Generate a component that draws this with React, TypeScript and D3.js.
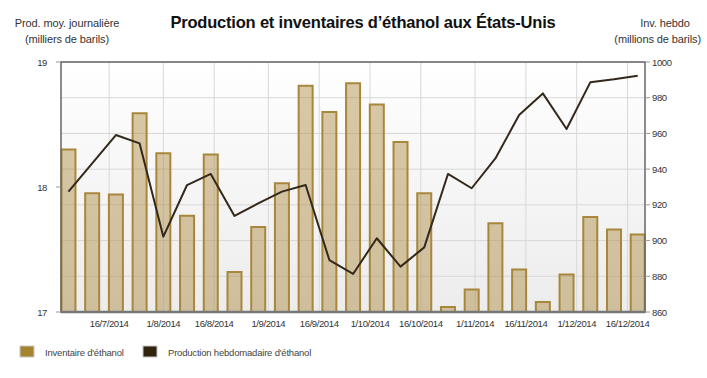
import React from "react";
import * as d3 from "d3";

const dates: string[] = [
  "2014-07-04", "2014-07-11", "2014-07-18", "2014-07-25", "2014-08-01", "2014-08-08",
  "2014-08-15", "2014-08-22", "2014-08-29", "2014-09-05", "2014-09-12", "2014-09-19",
  "2014-09-26", "2014-10-03", "2014-10-10", "2014-10-17", "2014-10-24", "2014-10-31",
  "2014-11-07", "2014-11-14", "2014-11-21", "2014-11-28", "2014-12-05", "2014-12-12",
  "2014-12-19",
];
const inventaire: number[] = [
  18.3, 17.95, 17.94, 18.59, 18.27, 17.77, 18.26, 17.32, 17.68, 18.03, 18.81, 18.6,
  18.83, 18.66, 18.36, 17.95, 17.04, 17.18, 17.71, 17.34, 17.08, 17.3, 17.76, 17.66, 17.62,
];
const production: number[] = [
  927.4, 943.2, 959.1, 954.4, 902.2, 931.1, 937.3, 913.8, 920.8, 927.4, 931.1, 889.1,
  881.3, 901.3, 885.4, 896.2, 937.3, 929.3, 946.0, 970.3, 982.4, 962.5, 988.6, 990.3, 992.3,
];
const leftTicks: number[] = [17, 18, 19];
const rightTicks: number[] = [860, 880, 900, 920, 940, 960, 980, 1000];
const xTickDates: string[] = [
  "2014-07-16", "2014-08-01", "2014-08-16", "2014-09-01", "2014-09-16", "2014-10-01",
  "2014-10-16", "2014-11-01", "2014-11-16", "2014-12-01", "2014-12-16",
];
const title = "Production et inventaires d\u2019éthanol aux États-Unis";
const leftTitle = ["Prod. moy. journalière", "(milliers de barils)"];
const rightTitle = ["Inv. hebdo", "(millions de barils)"];
const legendLabels = ["Inventaire d'éthanol", "Production hebdomadaire d'éthanol"];

const W = 707, H = 378;
const L = 61, R = 645, T = 62, B = 312;
const FONT = "'Liberation Sans', Arial, Helvetica, sans-serif";

export default function App() {
  const parse = d3.utcParse("%Y-%m-%d");
  const ds = dates.map((d) => parse(d)!);
  const DAY = 86400000;
  const x = d3
    .scaleUtc()
    .domain([new Date(ds[0].getTime() - 2.2 * DAY), new Date(ds[ds.length - 1].getTime() + 2.15 * DAY)])
    .range([L, R]);
  const yL = d3.scaleLinear().domain([17, 19]).range([B, T]);
  const yR = d3.scaleLinear().domain([860, 1000]).range([B, T]);
  const bw = 14;
  const fmt = d3.utcFormat("%-d/%-m/%Y");
  const line = d3
    .line<number>()
    .x((_, i) => x(ds[i]))
    .y((v) => yR(v));

  return (
    <svg width={W} height={H} style={{ position: "absolute", left: 0, top: 0, fontFamily: FONT }}>
      <defs>
        <linearGradient id="bg" x1="0" y1="0" x2="0" y2="1">
          <stop offset="0" stopColor="#ffffff" />
          <stop offset="1" stopColor="#ececec" />
        </linearGradient>
      </defs>
      <rect width={W} height={H} fill="#fff" />
      <text x={363} y={28} textAnchor="middle" fontSize={16.5} letterSpacing={-0.2} fontWeight="bold" fill="#111">
        {title}
      </text>
      <text x={67} y={27} textAnchor="middle" fontSize={11} letterSpacing={-0.1} fill="#333">{leftTitle[0]}</text>
      <text x={67} y={43} textAnchor="middle" fontSize={11} letterSpacing={-0.1} fill="#333">{leftTitle[1]}</text>
      <text x={665} y={27} textAnchor="middle" fontSize={11} letterSpacing={-0.1} fill="#333">{rightTitle[0]}</text>
      <text x={701} y={43} textAnchor="end" fontSize={11} letterSpacing={-0.1} fill="#333">{rightTitle[1]}</text>

      <rect x={L} y={T} width={R - L} height={B - T} fill="url(#bg)" />
      {rightTicks.map((t) => (
        <line key={"gh" + t} x1={L} x2={R} y1={yR(t)} y2={yR(t)} stroke="#d8d8d8" strokeWidth={1} />
      ))}
      {xTickDates.map((t) => {
        const xx = x(parse(t)!);
        return <line key={"gv" + t} x1={xx} x2={xx} y1={T} y2={B} stroke="#d8d8d8" strokeWidth={1} />;
      })}

      {inventaire.map((v, i) => (
        <rect
          key={"b" + i}
          x={x(ds[i]) - bw / 2}
          y={yL(v)}
          width={bw}
          height={B - yL(v)}
          fill="rgba(170,135,60,0.45)"
          stroke="#a8873c"
          strokeWidth={2}
        />
      ))}

      <path d={line(production)!} fill="none" stroke="#33281a" strokeWidth={2} strokeLinejoin="round" />

      <rect x={L} y={T} width={R - L} height={B - T} fill="none" stroke="#666" strokeWidth={1.5} />
      <line x1={L} x2={R} y1={B} y2={B} stroke="#777" strokeWidth={2.5} />

      {leftTicks.map((t) => (
        <g key={"lt" + t}>
          <line x1={L - 5} x2={L} y1={yL(t)} y2={yL(t)} stroke="#999" />
          <text x={L - 14} y={yL(t) + 3.5} textAnchor="end" fontSize={9.5} letterSpacing={-0.4} fill="#333">{t}</text>
        </g>
      ))}
      {rightTicks.map((t) => (
        <g key={"rt" + t}>
          <line x1={R} x2={R + 5} y1={yR(t)} y2={yR(t)} stroke="#999" />
          <text x={R + 7} y={yR(t) + 3.5} textAnchor="start" fontSize={9.5} letterSpacing={-0.4} fill="#333">{t}</text>
        </g>
      ))}
      {xTickDates.map((t) => {
        const xx = x(parse(t)!);
        return (
          <text key={"xl" + t} x={xx} y={326.5} textAnchor="middle" fontSize={9.5} letterSpacing={-0.4} fill="#333">
            {fmt(parse(t)!)}
          </text>
        );
      })}

      <rect x={20} y={346} width={14} height={11} fill="#a6832f" stroke="#c8c8c8" strokeWidth={1} />
      <text x={45} y={355.5} fontSize={9.5} letterSpacing={-0.2} fill="#444">{legendLabels[0]}</text>
      <rect x={143} y={346} width={14} height={11} fill="#30240e" stroke="#c8c8c8" strokeWidth={1} />
      <text x={168} y={355.5} fontSize={9.5} letterSpacing={-0.2} fill="#444">{legendLabels[1]}</text>
    </svg>
  );
}
